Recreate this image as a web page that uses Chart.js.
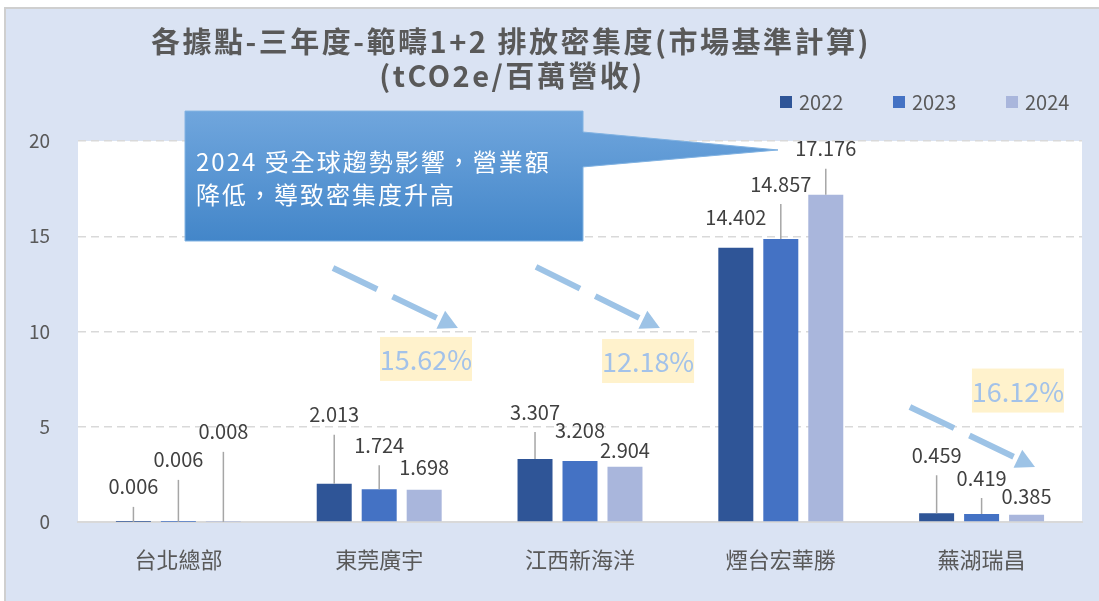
<!DOCTYPE html>
<html>
<head>
<meta charset="utf-8">
<script src="https://cdn.jsdelivr.net/npm/chart.js@4.4.1/dist/chart.umd.min.js"></script>
<style>
  html, body { margin: 0; padding: 0; background: #ffffff; }
</style>
</head>
<body>
<canvas id="myChart" width="1099" height="601"></canvas>
<script>
// categories and series
const sites = ['台北總部', '東莞廣宇', '江西新海洋', '煙台宏華勝', '蕪湖瑞昌'];
const years = ['2022', '2023', '2024'];
const values2022 = [0.006, 2.013, 3.307, 14.402, 0.459];
const values2023 = [0.006, 1.724, 3.208, 14.857, 0.419];
const values2024 = [0.008, 1.698, 2.904, 17.176, 0.385];
const yTicks = [0, 5, 10, 15, 20];
const dropTexts = ['15.62%', '12.18%', '16.12%'];
const titleLines = ['各據點-三年度-範疇1+2 排放密集度(市場基準計算)', '(tCO2e/百萬營收)'];
const noteLines = ['2024 受全球趨勢影響，營業額', '降低，導致密集度升高'];

const series = [values2022, values2023, values2024];
const barColors = ['#2f5597', '#4472c4', '#a9b6dc'];
const FONT = "'Noto Sans CJK TC', 'Noto Sans', sans-serif";

// how far (px) each value label sits above its bar, like the hand-placed labels in Excel
const labelLift = [
  [35, 69, 47, 30, 58],
  [62, 44, 30, 55, 36],
  [90, 22, 16, 46, 18]
];

// annotations, in scale units (x = category index, y = value)
const dropArrows = [
  { from: [0.77, 13.33], to: [1.392, 10.18] },
  { from: [1.781, 13.39], to: [2.398, 10.18] },
  { from: [3.643, 6.04], to: [4.266, 2.89] }
];
const dropBoxes = [[1.233, 8.56], [2.339, 8.45], [4.181, 6.90]];
const note = { left: 0.033, right: 2.015, top: 21.57, bottom: 14.75, tip: [2.986, 19.53], baseTop: 20.47, baseBottom: 18.64 };

const decor = {
  id: 'decor',
  beforeDraw(chart) {
    const c = chart.ctx;
    const a = chart.chartArea;
    c.save();
    c.fillStyle = '#ffffff';
    c.fillRect(0, 0, chart.width, chart.height);
    c.fillStyle = '#dae3f3';
    c.fillRect(5, 8, chart.width, chart.height);
    c.strokeStyle = '#cfcfcf';
    c.lineWidth = 2;
    c.strokeRect(5, 8, chart.width + 10, chart.height + 10);
    c.fillStyle = '#ffffff';
    c.fillRect(a.left, a.top, a.right - a.left, a.bottom - a.top);
    c.restore();
  },
  afterDatasetsDraw(chart) {
    const c = chart.ctx;
    const xs = chart.scales.x, ys = chart.scales.y;
    const X = v => xs.getPixelForValue(v);
    const Y = v => ys.getPixelForValue(v);
    c.save();

    // value labels with leader lines
    c.font = '20px ' + FONT;
    c.textAlign = 'center';
    c.textBaseline = 'middle';
    series.forEach((vals, di) => {
      chart.getDatasetMeta(di).data.forEach((bar, i) => {
        const lift = labelLift[di][i];
        const ty = bar.y - lift;
        if (lift > 33) {
          c.strokeStyle = '#a6a6a6';
          c.lineWidth = 1.5;
          c.beginPath();
          c.moveTo(bar.x, ty + 20);
          c.lineTo(bar.x, bar.y);
          c.stroke();
        }
        c.fillStyle = '#404040';
        c.fillText(vals[i].toFixed(3), bar.x, ty);
      });
    });

    // dashed drop arrows
    dropArrows.forEach(ar => {
      const x1 = X(ar.from[0]), y1 = Y(ar.from[1]);
      const x2 = X(ar.to[0]), y2 = Y(ar.to[1]);
      const len = Math.hypot(x2 - x1, y2 - y1);
      const dx = (x2 - x1) / len, dy = (y2 - y1) / len;
      const head = 19, half = 10;
      c.strokeStyle = '#9dc3e6';
      c.fillStyle = '#9dc3e6';
      c.lineWidth = 6;
      c.setLineDash([49, 17]);
      c.beginPath();
      c.moveTo(x1, y1);
      c.lineTo(x2 - dx * (head - 1), y2 - dy * (head - 1));
      c.stroke();
      c.setLineDash([]);
      const bx = x2 - dx * head, by = y2 - dy * head;
      c.beginPath();
      c.moveTo(x2, y2);
      c.lineTo(bx - dy * half, by + dx * half);
      c.lineTo(bx + dy * half, by - dx * half);
      c.closePath();
      c.fill();
    });

    // percent boxes
    c.font = '27px ' + FONT;
    dropBoxes.forEach((b, i) => {
      const cx = X(b[0]), cy = Y(b[1]);
      c.fillStyle = '#fff2cc';
      c.fillRect(cx - 46, cy - 22, 92, 44);
      c.fillStyle = '#a3c2e9';
      c.fillText(dropTexts[i], cx, cy + 1);
    });

    // callout note
    const L = X(note.left), R = X(note.right), T = Y(note.top), B = Y(note.bottom);
    const grad = c.createLinearGradient(0, T, 0, B);
    grad.addColorStop(0, '#70a6dd');
    grad.addColorStop(1, '#4386c9');
    c.beginPath();
    c.moveTo(L, T);
    c.lineTo(R, T);
    c.lineTo(R, Y(note.baseTop));
    c.lineTo(X(note.tip[0]), Y(note.tip[1]));
    c.lineTo(R, Y(note.baseBottom));
    c.lineTo(R, B);
    c.lineTo(L, B);
    c.closePath();
    c.fillStyle = grad;
    c.fill();
    c.strokeStyle = '#80b2e2';
    c.lineWidth = 1;
    c.stroke();
    c.fillStyle = '#ffffff';
    c.textAlign = 'left';
    c.font = '24px ' + FONT;
    c.letterSpacing = '2px';
    c.fillText(noteLines[0], L + 11, T + 51);
    c.fillText(noteLines[1], L + 11, T + 84);

    // title
    c.textAlign = 'center';
    c.fillStyle = '#595959';
    c.font = 'bold 29px ' + FONT;
    c.letterSpacing = '2.5px';
    c.fillText(titleLines[0], 511, 42);
    c.fillText(titleLines[1], 512, 76);
    c.letterSpacing = '0px';

    // legend
    const legendX = [780, 893, 1006];
    c.font = '20px ' + FONT;
    c.textAlign = 'left';
    years.forEach((yr, i) => {
      c.fillStyle = barColors[i];
      c.fillRect(legendX[i], 96, 12, 12);
      c.fillStyle = '#595959';
      c.fillText(yr, legendX[i] + 19, 102);
    });
    c.restore();
  }
};

Chart.defaults.font.family = FONT;

const ctx = document.getElementById('myChart');
new Chart(ctx, {
  type: 'bar',
  data: {
    labels: sites,
    datasets: years.map((yr, i) => ({
      label: yr,
      data: series[i],
      backgroundColor: barColors[i],
      categoryPercentage: 0.672,
      barPercentage: 0.778
    }))
  },
  options: {
    responsive: false,
    animation: false,
    layout: { padding: { top: 141, right: 17, bottom: 0, left: 0 } },
    plugins: {
      legend: { display: false },
      tooltip: { enabled: false }
    },
    scales: {
      x: {
        grid: { display: false },
        border: { display: true, color: '#d9d9d9', width: 2 },
        ticks: { color: '#595959', font: { size: 22 }, padding: 16 },
        afterFit: s => { s.height = 79; }
      },
      y: {
        min: 0,
        max: 20,
        afterBuildTicks: s => { s.ticks = yTicks.map(v => ({ value: v })); },
        grid: { color: '#d9d9d9', lineWidth: 1.5, drawTicks: false },
        border: { display: false, dash: [8, 5] },
        ticks: { color: '#595959', font: { size: 19 }, padding: 28 },
        afterFit: s => { s.width = 78; }
      }
    }
  },
  plugins: [decor]
});
</script>
</body>
</html>
